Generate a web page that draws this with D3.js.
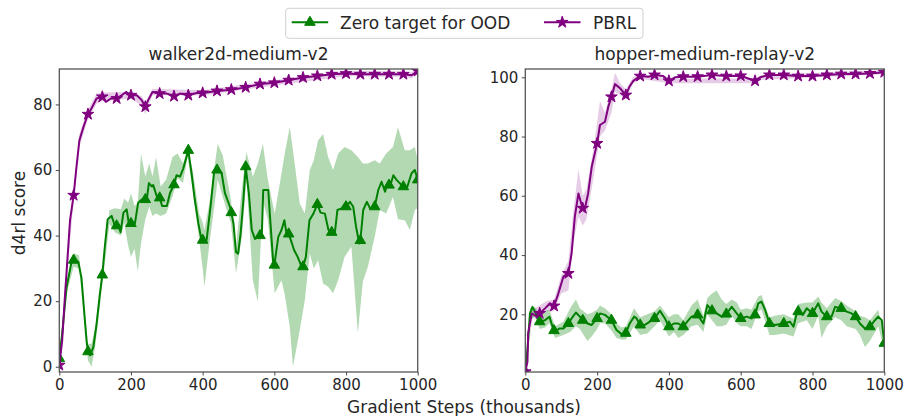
<!DOCTYPE html>
<html>
<head>
<meta charset="utf-8">
<script src="https://cdn.jsdelivr.net/npm/d3@7"></script>
<style>
  html, body { margin: 0; padding: 0; background: #fff; }
  svg { display: block; font-family: "DejaVu Sans", sans-serif; }
</style>
</head>
<body>
<svg id="chart" width="906" height="416"></svg>
<script>
// ---- data: [step (thousands), score] ----
const seriesNames = ["Zero target for OOD", "PBRL"];
const panelTitles = ["walker2d-medium-v2", "hopper-medium-replay-v2"];
const xTicks = [0, 200, 400, 600, 800, 1000];
const walkerYTicks = [0, 20, 40, 60, 80];
const hopperYTicks = [20, 40, 60, 80, 100];

const walkerZero = [[0,2.5],[8,10],[20,24],[34,32],[40,32.5],[53,32],[62,27],[70,16],[76,8],[80,4.6],[86,3.5],[95,6],[104,13],[113,22],[120,28],[127,36.6],[135,45],[146,46],[155,43],[160,43],[165,43],[171,41],[179,47],[188,48],[195,43],[200,43.7],[211,43.7],[220,50],[230,51],[240,51],[244,51],[250,56],[258,55],[262,55.4],[272,52],[280,51.5],[287,49],[300,49],[309,53],[320,55.5],[327,58.4],[337,58],[346,60.5],[360,66],[369,59],[378,51],[388,43.7],[397,38.6],[400,38.6],[411,38.6],[422,48.8],[432,59.5],[440,60],[444,60],[453,59],[462,53],[476,48.8],[480,47],[486,43.7],[493,35],[499,34.5],[506,40.7],[513,49.8],[520,61],[529,52.8],[537,41.7],[546,39],[560,40],[565,40],[569,53.9],[583,53.9],[588,45.7],[597,31.5],[600,31],[611,39.6],[620,41.7],[628,44.7],[634,40.6],[640,40.5],[648,38],[655,35.6],[665,33.5],[676,30.5],[680,30.5],[688,33.5],[698,44.7],[709,46.7],[720,49.5],[729,47],[741,46.7],[751,41.7],[760,41],[769,41],[776,47.8],[788,48.3],[797,49.8],[800,48.8],[811,50.3],[820,48.8],[828,42.7],[837,37.6],[840,38.5],[848,47.8],[858,50.3],[867,48.3],[880,48.8],[890,53.9],[899,56.4],[909,53.4],[913,55],[920,55.4],[924,55.4],[932,58.4],[941,57],[955,55.4],[960,54.9],[971,54.9],[983,59],[992,60],[1000,57]];

const walkerPbrl = [[0,0.5],[8,8],[16,22],[30,44.7],[40,52.3],[48,61],[56,69],[67,73],[80,77],[90,78.8],[104,81.8],[120,82.3],[130,80.8],[144,81.8],[160,81.8],[174,82.8],[186,83.8],[200,82.8],[216,82.8],[230,81.3],[240,79.3],[248,81.3],[260,83.8],[280,83.3],[300,83.3],[320,82.5],[337,83.3],[360,82.8],[383,83.5],[400,83.5],[420,83.8],[440,84.1],[480,84.5],[520,85.2],[560,86.2],[600,86.6],[640,87.4],[680,88.2],[720,88.7],[760,89.2],[800,89.4],[840,89.2],[880,89.2],[920,89.2],[960,89.2],[983,88.9],[1000,90.2]];

// ---- spread across seeds: [step, low, high] ----
const walkerZeroBand = [[0,1,4],[20,22,26],[40,30.5,34.5],[55,30,34],[70,14,18],[80,2,7],[90,0,7],[100,6,12],[121,26,30],[140,43.5,47.8],[155,41,48.3],[172,40,48],[181,44,51.3],[192,37,50],[200,33.5,52.8],[210,36,49],[219,29,50],[228,37.6,65],[240,45,58],[251,48.8,62],[260,46,58],[270,46.7,64],[283,46,55],[298,46.7,57],[316,52,64],[330,57.5,65],[345,56,62],[358,64,66.5],[372,54,60],[390,39,46.7],[400,30,44],[405,24.4,41.7],[419,37.6,50],[442,57,68],[456,51.8,64.5],[479,43.7,50.8],[493,28.5,36.5],[510,40,55],[522,57,65.5],[540,26.4,58],[554,19.8,62],[568,50.8,68],[582,44.7,57],[601,22.4,46.7],[620,26.4,59],[629,22,65],[643,12.2,73],[652,0,66],[671,11.2,49.8],[685,20.3,46.7],[699,34.5,60],[710,30,63],[722,32.5,69],[736,25.4,71],[750,24.4,64],[764,22.4,60],[778,26.4,65],[796,33.5,67],[815,36.6,66],[833,10.2,64],[847,26,62],[861,30.5,62],[880,39.6,63],[894,47.8,62],[912,46.7,65],[931,51.8,67],[945,45,73],[964,44.7,66],[978,41.7,66],[992,47.8,67],[1000,48.5,63]];

const walkerPbrlBand = [[0,0,1.2],[16,20.5,23.5],[40,50.5,54],[56,67,71],[80,75.5,78.5],[104,80.2,83.3],[120,81,83.6],[200,81.8,83.8],[230,79.5,82.5],[240,77,80.5],[260,82.8,84.8],[400,82.7,84.3],[600,85.8,87.4],[800,88.6,90.2],[960,88.4,90],[983,88,89.8],[1000,89.4,91]];

const hopperZero = [[0,0.6],[6,8],[13,20.3],[20,22.5],[27,20.9],[40,17.5],[55,18],[67,19.2],[76,15.8],[80,14.5],[83,14.1],[95,15.2],[106,15.2],[120,16.9],[129,18.6],[141,20.6],[152,19.2],[160,18],[173,16.9],[185,16.4],[200,18.6],[208,20.3],[222,19.8],[240,18],[254,14.7],[268,13.3],[280,13.6],[291,16.9],[303,19.2],[310,18.6],[320,16.4],[333,16.4],[347,17.5],[360,18.6],[375,21.2],[389,18.6],[400,15.8],[414,16.9],[426,16.9],[440,15.8],[451,17.5],[463,19.2],[480,19.8],[496,16.9],[507,23.1],[520,21.2],[533,20.3],[547,19.2],[560,20.1],[575,22.5],[589,20.3],[600,18.6],[617,19.2],[630,18.6],[640,19.8],[649,23.7],[658,24.3],[668,21.5],[680,16.9],[695,16.4],[720,16.9],[737,17.5],[747,15.8],[756,20.3],[760,20.9],[773,19.8],[784,22],[800,20.3],[816,23.7],[825,20.9],[840,19.2],[853,19.2],[863,22.5],[880,22],[895,20.9],[909,20.3],[920,19.2],[932,16.9],[946,15.2],[960,15.8],[974,18],[983,19.2],[993,18],[1000,10.2]];

const hopperPbrl = [[0,0.6],[6,4],[8,13.6],[18,20.3],[32,19.2],[40,20.3],[55,22],[69,23.7],[80,22.8],[92,27],[106,32.7],[120,33.8],[129,40.6],[138,53],[148,60.8],[157,56.9],[160,55.8],[166,55.8],[175,60.8],[185,69.8],[200,77.7],[208,83.9],[222,85],[231,90],[240,93.4],[250,97.7],[264,96.3],[280,94],[290,96.8],[301,98.8],[320,100.4],[343,100.2],[360,100.8],[384,100.4],[400,98.8],[417,100],[440,100.2],[480,100.2],[520,100.8],[560,100.4],[600,100.5],[621,99.6],[640,98.8],[654,100],[680,100.8],[720,100.8],[760,100.4],[800,100.4],[840,100.8],[880,101.1],[920,101.1],[960,101.3],[1000,101.7]];

const hopperZeroBand = [[0,0,1.5],[13,18,22],[27,19,22.5],[40,15,20],[55,15.5,21],[67,17,21.5],[83,12,16],[106,13,17.5],[125,14,22],[141,16,25],[152,15,22],[173,11,20],[185,12.5,20.5],[200,15,21.5],[208,17,23],[222,17,22],[240,14.5,20],[254,12,17],[268,11.5,15.5],[280,11.5,16],[303,16,22],[320,13,19],[340,13.5,20],[360,16,21],[375,18,23],[400,12.5,19],[414,14,20],[426,12,20],[440,13,18],[463,16,23],[480,16.5,25],[496,14,19.5],[507,20,25.5],[520,18,27],[533,16,28],[547,16,25],[560,16.5,23.5],[575,19.5,25],[589,17,24],[600,16,21.5],[617,16,22],[630,15,21.5],[649,21,26],[658,21.5,26.5],[680,13,19],[695,13,19.5],[720,13.5,20],[747,12.5,18.5],[760,17,23.5],[784,18,24],[800,15,24],[816,19.5,26],[825,12,24],[840,16,22],[863,19,25.5],[880,18,24.5],[895,16,23],[920,15,21],[932,13,19.5],[946,9,19],[960,11,18],[983,16,21.5],[1000,8,12]];

const hopperPbrlBand = [[0,0,1.5],[20,19,21.5],[60,21,24.5],[80,21,25],[100,27,33],[120,28,38],[135,45,56],[148,53,69],[160,50,60],[170,52,62],[190,66,76],[208,80,92],[222,82,88],[240,88,96],[250,95,101.5],[264,94,98],[280,92.5,96],[300,98,100],[320,99.5,101.2],[400,98,99.6],[640,98,99.6],[660,99.2,100.8],[1000,101,102.4]];

// ---- styling ----
const GREEN = "#008000", PURPLE = "#800080";
const INK = "#262626", FRAME = "#555";

const svg = d3.select("#chart");

const panels = [
  { title: panelTitles[0], left: 59.3, right: 417.7, yDomain: [-1.6, 90.8], yTicks: walkerYTicks,
    zero: walkerZero, zeroBand: walkerZeroBand, pbrl: walkerPbrl, pbrlBand: walkerPbrlBand },
  { title: panelTitles[1], left: 525.3, right: 884.3, yDomain: [0.52, 102.8], yTicks: hopperYTicks,
    zero: hopperZero, zeroBand: hopperZeroBand, pbrl: hopperPbrl, pbrlBand: hopperPbrlBand }
];
const TOP = 69, BOTTOM = 372;

const triangle = d3.symbol().type(d3.symbolTriangle).size(48);
const star = d3.symbol().type(d3.symbolStar).size(42);

panels.forEach((p, i) => {
  const x = d3.scaleLinear().domain([0, 1000]).range([p.left, p.right]);
  const y = d3.scaleLinear().domain(p.yDomain).range([BOTTOM, TOP]);
  const g = svg.append("g");
  const clipId = "clip" + i;
  svg.append("clipPath").attr("id", clipId)
    .append("rect").attr("x", p.left).attr("y", TOP)
    .attr("width", p.right - p.left).attr("height", BOTTOM - TOP);

  const plot = g.append("g").attr("clip-path", `url(#${clipId})`);
  const area = d3.area().x(d => x(d[0])).y0(d => y(d[1])).y1(d => y(d[2]));
  const line = d3.line().x(d => x(d[0])).y(d => y(d[1]));

  plot.append("path").datum(p.zeroBand).attr("d", area)
    .attr("fill", GREEN).attr("fill-opacity", 0.3);
  plot.append("path").datum(p.pbrlBand).attr("d", area)
    .attr("fill", PURPLE).attr("fill-opacity", 0.2);

  const drawSeries = (data, color, sym) => {
    plot.append("path").datum(data).attr("d", line)
      .attr("fill", "none").attr("stroke", color).attr("stroke-width", 2)
      .attr("stroke-linejoin", "round");
    plot.selectAll(null).data(data.filter(d => d[0] % 40 === 0)).enter()
      .append("path").attr("d", sym)
      .attr("transform", d => `translate(${x(d[0])},${y(d[1])})`)
      .attr("fill", color).attr("stroke", color).attr("stroke-width", 1);
  };
  drawSeries(p.zero, GREEN, triangle);
  drawSeries(p.pbrl, PURPLE, star);

  // axes
  const xAxis = g.append("g").attr("transform", `translate(0,${BOTTOM})`)
    .call(d3.axisBottom(x).tickValues(xTicks).tickSize(3.5).tickPadding(3.5).tickFormat(d3.format("d")));
  const yAxis = g.append("g").attr("transform", `translate(${p.left},0)`)
    .call(d3.axisLeft(y).tickValues(p.yTicks).tickSize(3.5).tickPadding(3.5).tickFormat(d3.format("d")));
  [xAxis, yAxis].forEach(a => {
    a.select(".domain").remove();
    a.selectAll(".tick line").attr("stroke", FRAME).attr("stroke-width", 1.1);
    a.selectAll(".tick text").attr("fill", INK).style("font-size", "15px")
      .style("font-family", "'DejaVu Sans', sans-serif");
  });

  g.append("rect").attr("x", p.left).attr("y", TOP)
    .attr("width", p.right - p.left).attr("height", BOTTOM - TOP)
    .attr("fill", "none").attr("stroke", FRAME).attr("stroke-width", 1.3);

  g.append("text").attr("x", (p.left + p.right) / 2).attr("y", 59.5)
    .attr("text-anchor", "middle").attr("fill", INK).style("font-size", "17px")
    .text(p.title);
});

// shared labels
svg.append("text").attr("x", 464).attr("y", 412.5).attr("text-anchor", "middle")
  .attr("fill", INK).style("font-size", "17px").text("Gradient Steps (thousands)");
svg.append("text").attr("transform", "translate(25,213) rotate(-90)")
  .attr("text-anchor", "middle").attr("fill", INK).style("font-size", "17px").text("d4rl score");

// legend
const legend = svg.append("g");
legend.append("rect").attr("x", 285.7).attr("y", 8.3).attr("width", 357.3).attr("height", 30)
  .attr("rx", 3).attr("fill", "#fff").attr("stroke", "#d0d0d0").attr("stroke-width", 1);
const legendItems = [
  { name: seriesNames[0], color: GREEN, sym: triangle, x0: 291.7, tx: 340 },
  { name: seriesNames[1], color: PURPLE, sym: star, x0: 544, tx: 593 }
];
legendItems.forEach(it => {
  legend.append("line").attr("x1", it.x0).attr("x2", it.x0 + 36.5).attr("y1", 22.3).attr("y2", 22.3)
    .attr("stroke", it.color).attr("stroke-width", 2);
  legend.append("path").attr("d", it.sym).attr("transform", `translate(${it.x0 + 18.25},22.3)`)
    .attr("fill", it.color).attr("stroke", it.color).attr("stroke-width", 1);
  legend.append("text").attr("x", it.tx).attr("y", 28.5).attr("fill", INK)
    .style("font-size", "17px").text(it.name);
});
</script>
</body>
</html>
